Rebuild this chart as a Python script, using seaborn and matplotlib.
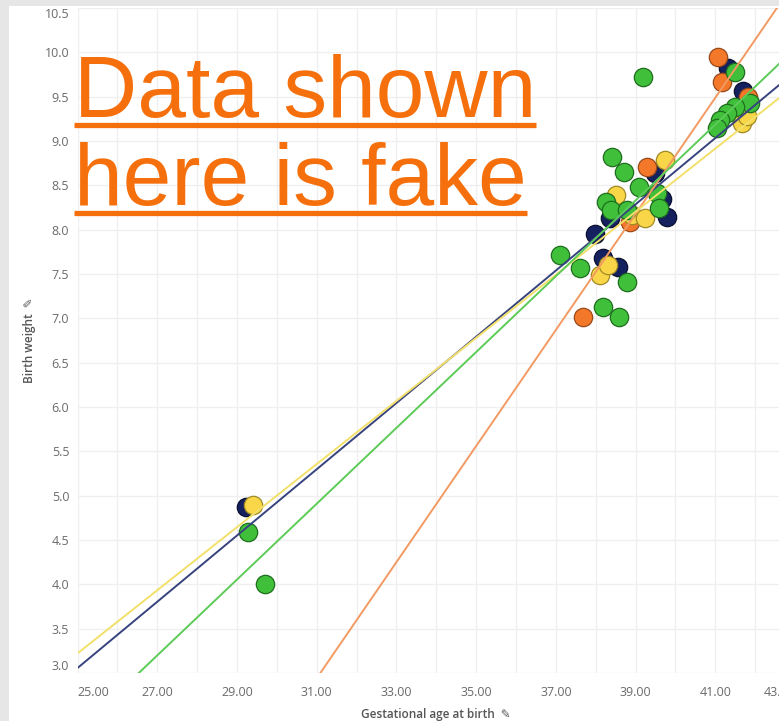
import numpy as np
import pandas as pd
import matplotlib
matplotlib.use("Agg")
import matplotlib.pyplot as plt
from matplotlib.patches import Rectangle
from matplotlib.lines import Line2D
from matplotlib.ticker import MultipleLocator, FormatStrFormatter
import seaborn as sns

# ---------------- data ----------------
navy_age = [29.23, 37.99, 38.18, 38.56, 38.36, 39.49, 39.66, 39.78, 41.70, 41.32]
navy_wt = [4.87, 7.95, 7.68, 7.58, 8.13, 8.64, 8.35, 8.14, 9.56, 9.82]

orange_age = [37.68, 38.87, 39.29, 41.07, 41.17, 41.83]
orange_wt = [7.02, 8.09, 8.71, 9.95, 9.67, 9.50]

yellow_age = [29.40, 38.10, 38.31, 38.52, 38.91, 39.24, 39.75, 41.67, 41.80]
yellow_wt = [4.89, 7.49, 7.60, 8.39, 8.17, 8.13, 8.79, 9.20, 9.28]

green_age = [29.28, 29.70, 37.11, 37.60, 38.79, 38.18, 38.59, 38.41, 38.71, 39.09,
             38.27, 38.39, 38.79, 39.53, 39.60, 39.19, 41.50, 41.87, 41.50, 41.30,
             41.12, 41.05]
green_wt = [4.59, 4.00, 7.71, 7.57, 7.41, 7.13, 7.02, 8.82, 8.65, 8.48,
            8.31, 8.22, 8.22, 8.41, 8.24, 9.72, 9.78, 9.43, 9.38, 9.32,
            9.24, 9.15]

groups = ["navy", "orange", "yellow", "green"]
x_ticks = [25, 27, 29, 31, 33, 35, 37, 39, 41, 43]
y_ticks = [3.0, 3.5, 4.0, 4.5, 5.0, 5.5, 6.0, 6.5, 7.0, 7.5, 8.0, 8.5, 9.0, 9.5, 10.0, 10.5]
x_label = "Gestational age at birth"
y_label = "Birth weight"
watermark = ["Data shown", "here is fake"]

frames = []
for g, a, w in [("navy", navy_age, navy_wt), ("orange", orange_age, orange_wt),
                ("yellow", yellow_age, yellow_wt), ("green", green_age, green_wt)]:
    frames.append(pd.DataFrame({"age": a, "weight": w, "group": g}))
df = pd.concat(frames, ignore_index=True)

fill = {"navy": "#15205f", "orange": "#f4782a", "yellow": "#f8d648", "green": "#3fbf3a"}
edge = {"navy": "#0a1030", "orange": "#9a4a1a", "yellow": "#a08a25", "green": "#1f6e1f"}
linec = {"navy": "#37437e", "orange": "#f29a62", "yellow": "#f2e06a", "green": "#5ccb57"}

# ---------------- figure ----------------
sns.set_theme(style="white")
plt.rcParams["font.family"] = ["Open Sans", "DejaVu Sans"]

fig = plt.figure(figsize=(7.79, 7.21), dpi=100)
fig.patch.set_facecolor("white")
# grey frame of the screenshot
fig.add_artist(Rectangle((0, 0), 9 / 779, 1, transform=fig.transFigure,
                         facecolor="#e6e6e6", edgecolor="none", zorder=0))
fig.add_artist(Rectangle((0, 1 - 6 / 721), 1, 6 / 721, transform=fig.transFigure,
                         facecolor="#e6e6e6", edgecolor="none", zorder=0))

ax = fig.add_axes([77.6 / 779, 48 / 721, (795 - 77.6) / 779, 665 / 721])
ax.set_facecolor("white")
xmin, xmax = 25, 43
ymin, ymax = 3.0, 10.5
ax.set_xlim(xmin, xmax)
ax.set_ylim(ymin, ymax)

for g in groups:
    sub = df[df["group"] == g]
    sns.scatterplot(data=sub, x="age", y="weight", ax=ax, color=fill[g],
                    edgecolor=edge[g], linewidth=0.9, s=175, zorder=3, legend=False)

for g in groups:
    sub = df[df["group"] == g]
    ax.set_xlim(xmin, xmax)
    sns.regplot(data=sub, x="age", y="weight", ax=ax, scatter=False, ci=None,
                truncate=False, color=linec[g], line_kws=dict(lw=1.4, zorder=5))

ax.set_xlim(xmin, xmax)
ax.set_ylim(ymin, ymax)

ax.set_xticks(x_ticks)
ax.xaxis.set_minor_locator(MultipleLocator(1))
ax.set_yticks(y_ticks)
ax.xaxis.set_major_formatter(FormatStrFormatter("%.2f"))
ax.yaxis.set_major_formatter(FormatStrFormatter("%.1f"))
ax.grid(True, which="both", color="#efefef", lw=0.9)
ax.set_axisbelow(True)
for s in ax.spines.values():
    s.set_visible(False)
ax.tick_params(axis="both", which="both", length=0, labelsize=9, labelcolor="#6a6a6a")
ax.tick_params(axis="x", pad=9)
ax.tick_params(axis="y", pad=6)

xl = ax.get_xticklabels()
xl[0].set_ha("left")
xl[-1].set_ha("right")
yl = ax.get_yticklabels()
yl[0].set_va("bottom")
yl[-1].set_va("top")

ax.set_xlabel(x_label + "  \u270e", fontsize=8.5, color="#555555", labelpad=7,
              fontweight="semibold")
ax.set_ylabel(y_label + "  \u270e", fontsize=8.5, color="#555555", labelpad=6,
              fontweight="semibold")

# watermark
wm_color = "#f5700c"
t1 = fig.text(74 / 779, (721 - 117) / 721, watermark[0], fontsize=63,
              family="Liberation Sans", color=wm_color, va="baseline", ha="left", zorder=10)
t2 = fig.text(74 / 779, (721 - 205) / 721, watermark[1], fontsize=63,
              family="Liberation Sans", color=wm_color, va="baseline", ha="left", zorder=10)
fig.canvas.draw()
r = fig.canvas.get_renderer()
for t, yy in [(t1, 125), (t2, 213)]:
    bb = t.get_window_extent(renderer=r)
    x0 = bb.x0 / fig.bbox.width
    x1 = bb.x1 / fig.bbox.width
    fig.add_artist(Line2D([x0, x1], [(721 - yy) / 721] * 2, transform=fig.transFigure,
                          color=wm_color, lw=3.8, solid_capstyle="butt", zorder=10))

fig.savefig("out.png", dpi=100)
